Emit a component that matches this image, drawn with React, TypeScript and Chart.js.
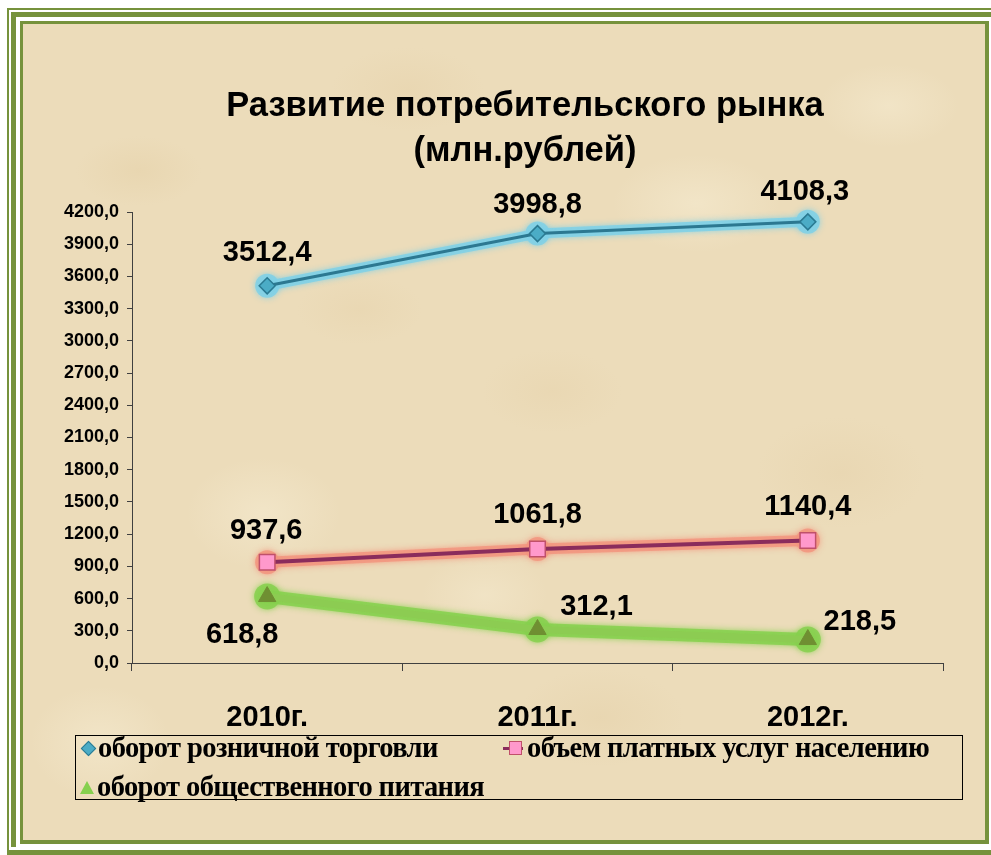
import React, { useEffect, useRef } from "react";
import { Chart, registerables } from "chart.js";

Chart.register(...registerables);

// ---------- data ----------
const categories = ["2010г.", "2011г.", "2012г."];
const retailTurnover = [3512.4, 3998.8, 4108.3];
const paidServices = [937.6, 1061.8, 1140.4];
const cateringTurnover = [618.8, 312.1, 218.5];
const seriesNames = [
  "оборот розничной торговли",
  "объем платных услуг населению",
  "оборот общественного питания",
];
const titleLines = ["Развитие потребительского рынка", "(млн.рублей)"];
const yMin = 0;
const yMax = 4200;
const yStep = 300;

// ---------- styling ----------
const GREEN_FRAME = "#76923c";
const BG = "#ecdcba";
const retailStyle = { line: "#2c7891", glow: "#7fd0e6", fill: "#4bacc6", border: "#2a7a92" };
const servicesStyle = { line: "#8a2c5c", glow: "#f2957f", fill: "#ff99cc", border: "#c0506a" };
const cateringStyle = { line: "#8ccc52", glow: "#86d04e", fill: "#6f8f32", border: "#6f8f32" };

// label offsets (dx, dy) from each point, per series
const labelOffsets = [
  [[0, -33], [0, -29], [-3, -30]],
  [[-1, -31], [0, -34], [0, -34]],
  [[-25, 38], [59, -22], [52, -18]],
];

const fmt = (v: number) => v.toFixed(1).replace(".", ",");

const glowPlugin = {
  id: "glowPlugin",
  beforeDatasetDraw(chart: any, args: any) {
    const ds: any = chart.data.datasets[args.index];
    const pts = args.meta.data;
    const ctx = chart.ctx;
    ctx.save();
    ctx.lineJoin = "round";
    ctx.lineCap = "round";
    ctx.strokeStyle = ds.glowColor;
    ctx.shadowColor = ds.glowColor;
    ctx.shadowBlur = 6;
    ctx.globalAlpha = 0.85;
    ctx.lineWidth = ds.glowWidth;
    ctx.beginPath();
    pts.forEach((p: any, i: number) => (i ? ctx.lineTo(p.x, p.y) : ctx.moveTo(p.x, p.y)));
    ctx.stroke();
    ctx.fillStyle = ds.glowColor;
    pts.forEach((p: any) => {
      ctx.beginPath();
      ctx.arc(p.x, p.y, ds.glowMarker, 0, Math.PI * 2);
      ctx.fill();
    });
    ctx.restore();
  },
};

const labelsPlugin = {
  id: "labelsPlugin",
  afterDatasetsDraw(chart: any) {
    const ctx = chart.ctx;
    ctx.save();
    ctx.font = "bold 29px 'Liberation Sans', Arial, sans-serif";
    ctx.fillStyle = "#000";
    ctx.textAlign = "center";
    ctx.textBaseline = "middle";
    chart.data.datasets.forEach((ds: any, di: number) => {
      const meta = chart.getDatasetMeta(di);
      meta.data.forEach((p: any, i: number) => {
        const off = labelOffsets[di][i];
        ctx.fillText(fmt(ds.data[i]), p.x + off[0], p.y + off[1]);
      });
    });
    ctx.restore();
  },
};

const titlePlugin = {
  id: "titlePlugin",
  afterDraw(chart: any) {
    const ctx = chart.ctx;
    ctx.save();
    ctx.font = "bold 34.5px 'Liberation Sans', Arial, sans-serif";
    ctx.fillStyle = "#000";
    ctx.textAlign = "center";
    ctx.textBaseline = "middle";
    ctx.fillText(titleLines[0], 502, 82);
    ctx.fillText(titleLines[1], 502, 127);
    ctx.restore();
  },
};

const CANVAS_W = 962;
const CANVAS_H = 816;

function LegendMarker({ kind }: { kind: number }) {
  if (kind === 0) {
    return (
      <span style={{ display: "inline-block", width: 15, height: 14, position: "relative", marginRight: 2 }}>
        <span
          style={{
            position: "absolute", left: 2, top: 2, width: 9, height: 9,
            background: retailStyle.fill, border: `1px solid ${retailStyle.border}`,
            transform: "rotate(45deg)",
          }}
        />
      </span>
    );
  }
  if (kind === 1) {
    return (
      <span style={{ display: "inline-block", width: 22, height: 14, position: "relative", marginRight: 2 }}>
        <span style={{ position: "absolute", left: 0, top: 6, width: 20, height: 3, background: servicesStyle.line }} />
        <span
          style={{
            position: "absolute", left: 6, top: 0, width: 11, height: 12,
            background: servicesStyle.fill, border: `1px solid ${servicesStyle.border}`,
          }}
        />
      </span>
    );
  }
  return (
    <span style={{ display: "inline-block", width: 15, height: 14, position: "relative", marginRight: 2 }}>
      <span
        style={{
          position: "absolute", left: 0, top: 1, width: 0, height: 0,
          borderLeft: "7px solid transparent", borderRight: "7px solid transparent",
          borderBottom: `13px solid ${cateringStyle.glow}`,
        }}
      />
    </span>
  );
}

export default function App() {
  const canvasRef = useRef<HTMLCanvasElement | null>(null);

  useEffect(() => {
    if (!canvasRef.current) return;
    const chart = new Chart(canvasRef.current, {
      type: "line",
      data: {
        labels: categories,
        datasets: [
          {
            label: seriesNames[0],
            data: retailTurnover,
            borderColor: retailStyle.line,
            borderWidth: 3,
            pointStyle: "rectRot",
            pointRadius: 8,
            pointBackgroundColor: retailStyle.fill,
            pointBorderColor: retailStyle.border,
            pointBorderWidth: 1.5,
            tension: 0,
            glowColor: retailStyle.glow,
            glowWidth: 10,
            glowMarker: 12,
          } as any,
          {
            label: seriesNames[1],
            data: paidServices,
            borderColor: servicesStyle.line,
            borderWidth: 4,
            pointStyle: "rect",
            pointRadius: 11,
            pointBackgroundColor: servicesStyle.fill,
            pointBorderColor: servicesStyle.border,
            pointBorderWidth: 1.5,
            tension: 0,
            glowColor: servicesStyle.glow,
            glowWidth: 11,
            glowMarker: 12,
          } as any,
          {
            label: seriesNames[2],
            data: cateringTurnover,
            borderColor: cateringStyle.line,
            borderWidth: 7,
            pointStyle: "triangle",
            pointRadius: 10,
            pointBackgroundColor: cateringStyle.fill,
            pointBorderColor: cateringStyle.border,
            pointBorderWidth: 1,
            tension: 0,
            glowColor: cateringStyle.glow,
            glowWidth: 13,
            glowMarker: 13,
          } as any,
        ],
      },
      options: {
        responsive: false,
        animation: false,
        devicePixelRatio: 1,
        layout: { padding: { left: 20, top: 188, right: 42, bottom: 0 } },
        plugins: {
          legend: { display: false },
          title: { display: false },
          tooltip: { enabled: false },
        },
        scales: {
          x: {
            offset: true,
            afterFit: (s: any) => { s.height = CANVAS_H - 639; },
            grid: { display: true, drawOnChartArea: false, offset: true, tickLength: 8, color: "#404040", lineWidth: 1 },
            border: { display: true, color: "#404040", width: 1 },
            ticks: {
              color: "#000",
              padding: 30,
              font: { family: "'Liberation Sans', Arial, sans-serif", size: 29, weight: "bold" },
              maxRotation: 0,
            },
          },
          y: {
            min: yMin,
            max: yMax,
            afterFit: (s: any) => { s.width = 89; },
            grid: { display: true, drawOnChartArea: false, tickLength: 5, color: "#404040", lineWidth: 1 },
            border: { display: true, color: "#404040", width: 1 },
            ticks: {
              stepSize: yStep,
              color: "#000",
              padding: 8,
              font: { family: "'Liberation Sans', Arial, sans-serif", size: 18, weight: "bold" },
              callback: (v: any) => fmt(Number(v)),
            },
          },
        },
      },
      plugins: [glowPlugin, labelsPlugin, titlePlugin],
    });
    return () => chart.destroy();
  }, []);

  const texture =
    "radial-gradient(ellipse 90px 50px at 12% 18%, rgba(226,204,160,0.35), transparent 70%)," +
    "radial-gradient(ellipse 110px 60px at 40% 8%, rgba(228,206,164,0.35), transparent 70%)," +
    "radial-gradient(ellipse 120px 70px at 70% 22%, rgba(246,236,210,0.55), transparent 70%)," +
    "radial-gradient(ellipse 120px 80px at 85% 55%, rgba(226,204,162,0.3), transparent 70%)," +
    "radial-gradient(ellipse 110px 80px at 25% 60%, rgba(246,236,210,0.55), transparent 70%)," +
    "radial-gradient(ellipse 100px 60px at 55% 45%, rgba(228,206,164,0.3), transparent 70%)," +
    "radial-gradient(ellipse 120px 70px at 60% 85%, rgba(226,204,162,0.35), transparent 70%)," +
    "radial-gradient(ellipse 100px 80px at 8% 88%, rgba(246,236,210,0.55), transparent 70%)," +
    "radial-gradient(ellipse 90px 50px at 35% 35%, rgba(228,206,164,0.3), transparent 70%)," +
    "radial-gradient(ellipse 100px 60px at 90% 10%, rgba(246,236,210,0.5), transparent 70%)," +
    "radial-gradient(ellipse 90px 60px at 48% 70%, rgba(246,236,210,0.45), transparent 70%)";

  const legendText: React.CSSProperties = {
    fontFamily: "'Liberation Serif', 'Times New Roman', serif",
    fontWeight: "bold",
    fontSize: 28.5,
    color: "#000",
    whiteSpace: "nowrap",
    letterSpacing: -0.6,
  };

  return (
    <div style={{ position: "absolute", left: 0, top: 0, width: 991, height: 855, overflow: "hidden", background: "#fff" }}>
      <div style={{ position: "absolute", left: 7, top: 8, width: 1010, height: 880, background: GREEN_FRAME }} />
      <div style={{ position: "absolute", left: 9, top: 10, width: 1006, height: 840, background: "#fff" }} />
      <div style={{ position: "absolute", left: 11, top: 12, width: 1002, height: 835, background: GREEN_FRAME }} />
      <div style={{ position: "absolute", left: 16, top: 17, width: 992, height: 830, background: "#fff" }} />
      <div style={{ position: "absolute", left: 20, top: 21, width: 969, height: 823, background: GREEN_FRAME }} />
      <div
        style={{
          position: "absolute", left: 23, top: 24, width: CANVAS_W, height: CANVAS_H,
          backgroundColor: BG, backgroundImage: texture,
        }}
      >
        <canvas ref={canvasRef} width={CANVAS_W} height={CANVAS_H} style={{ position: "absolute", left: 0, top: 0 }} />
      </div>
      {/* legend */}
      <div
        style={{
          position: "absolute", left: 75, top: 735, width: 888, height: 65,
          border: "1.5px solid #000", boxSizing: "border-box",
        }}
      />
      <div style={{ position: "absolute", left: 81, top: 733, display: "flex", alignItems: "center", height: 30 }}>
        <LegendMarker kind={0} />
        <span style={legendText}>{seriesNames[0]}</span>
      </div>
      <div style={{ position: "absolute", left: 503, top: 733, display: "flex", alignItems: "center", height: 30 }}>
        <LegendMarker kind={1} />
        <span style={legendText}>{seriesNames[1]}</span>
      </div>
      <div style={{ position: "absolute", left: 80, top: 772, display: "flex", alignItems: "center", height: 30 }}>
        <LegendMarker kind={2} />
        <span style={legendText}>{seriesNames[2]}</span>
      </div>
    </div>
  );
}
